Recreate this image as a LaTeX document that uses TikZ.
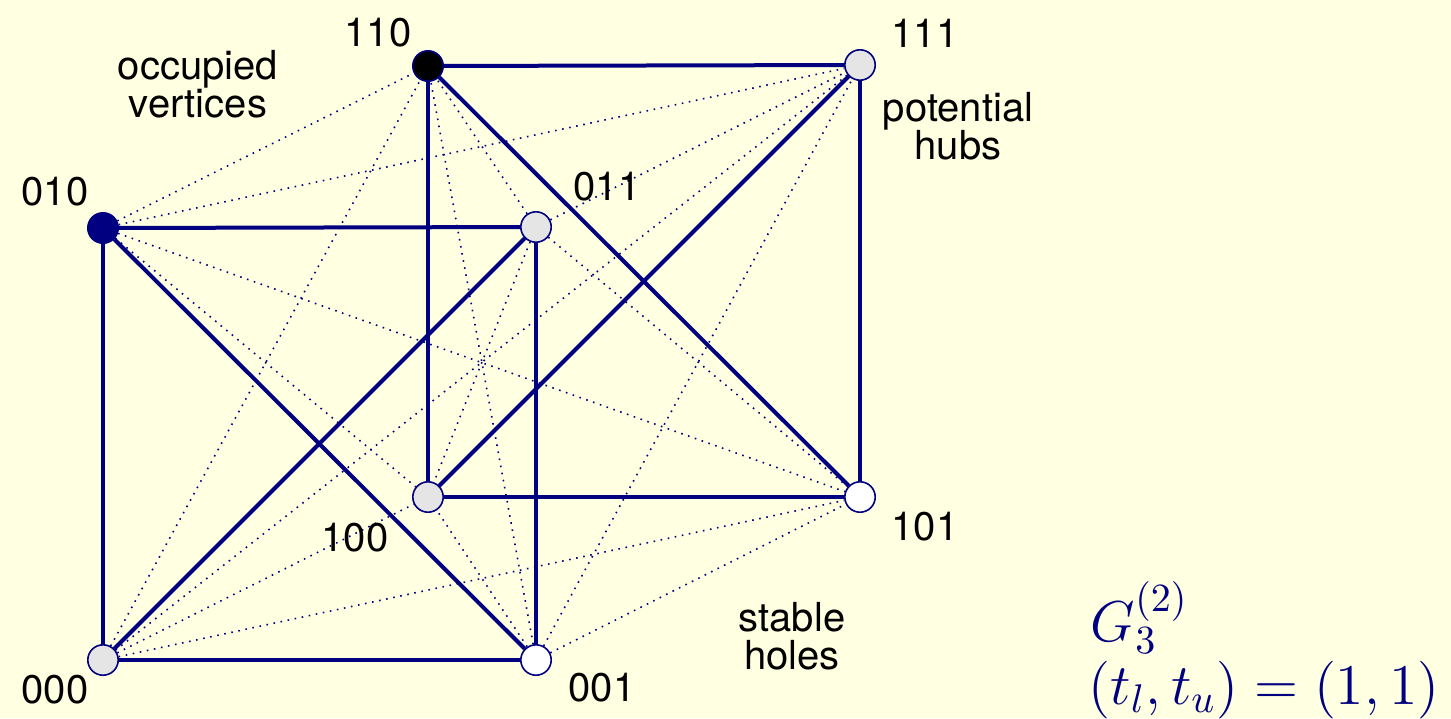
\documentclass[tikz,border=0pt]{standalone}
\usepackage{fontspec}
\newfontfamily\hv{TeX Gyre Heros}
\definecolor{bgc}{RGB}{255,255,225}
\definecolor{navyc}{RGB}{0,0,128}
\definecolor{lgray}{RGB}{229,229,229}
\begin{document}
\begin{tikzpicture}[x=0.25pt,y=-0.25pt,
  vtx/.style={circle,draw=navyc,line width=0.4pt,minimum size=7.6pt,inner sep=0pt},
  solidedge/.style={navyc,line width=1pt},
  dotedge/.style={navyc,line width=0.4pt,dash pattern=on 0.4pt off 1.4pt},
  lbl/.style={font=\hv\fontsize{10}{9.5}\selectfont,align=center,inner sep=0pt},
  mathlbl/.style={text=navyc,font=\fontsize{14}{17}\selectfont,inner sep=0pt}]
\fill[bgc] (0,0) rectangle (1451,718);
\useasboundingbox (0,0) rectangle (1451,718);
% vertices
\node[vtx,fill=black] (n110) at (428,66) {};
\node[vtx,fill=lgray] (n111) at (860,65) {};
\node[vtx,fill=navyc] (n010) at (103,228) {};
\node[vtx,fill=lgray] (n011) at (536,227) {};
\node[vtx,fill=lgray] (n100) at (428,497) {};
\node[vtx,fill=white] (n101) at (860,497) {};
\node[vtx,fill=lgray] (n000) at (103,660) {};
\node[vtx,fill=white] (n001) at (536,660) {};
% dotted edges
\foreach \a in {000,001,010,011}{
  \foreach \b in {100,101,110,111}{
    \draw[dotedge] (n\a) -- (n\b);
  }
}
% solid edges
\draw[solidedge] (n110) -- (n111);
\draw[solidedge] (n110) -- (n100);
\draw[solidedge] (n110) -- (n101);
\draw[solidedge] (n111) -- (n101);
\draw[solidedge] (n111) -- (n100);
\draw[solidedge] (n100) -- (n101);
\draw[solidedge] (n010) -- (n011);
\draw[solidedge] (n010) -- (n000);
\draw[solidedge] (n010) -- (n001);
\draw[solidedge] (n011) -- (n001);
\draw[solidedge] (n011) -- (n000);
\draw[solidedge] (n000) -- (n001);
% labels
\node[lbl] (l110) at (378,33) {110};
\node[lbl] (l111) at (925,33) {111};
\node[lbl] (l010) at (55,192) {010};
\node[lbl] (l011) at (607,187) {011};
\node[lbl] (l100) at (355,538) {100};
\node[lbl] (l101) at (925,527) {101};
\node[lbl] (l000) at (55,690) {000};
\node[lbl] (l001) at (602,688) {001};
\node[lbl] (occ) at (198,84) {occupied\\vertices};
\node[lbl] (hubs) at (958,126) {potential\\hubs};
\node[lbl] (holes) at (792,636) {stable\\holes};
\node[mathlbl,anchor=base west] (gname) at (1090,641) {$G_3^{(2)}$};
\node[mathlbl,anchor=base west] (tpair) at (1088,704) {$(t_l,t_u)=(1,1)$};
\end{tikzpicture}
\end{document}
